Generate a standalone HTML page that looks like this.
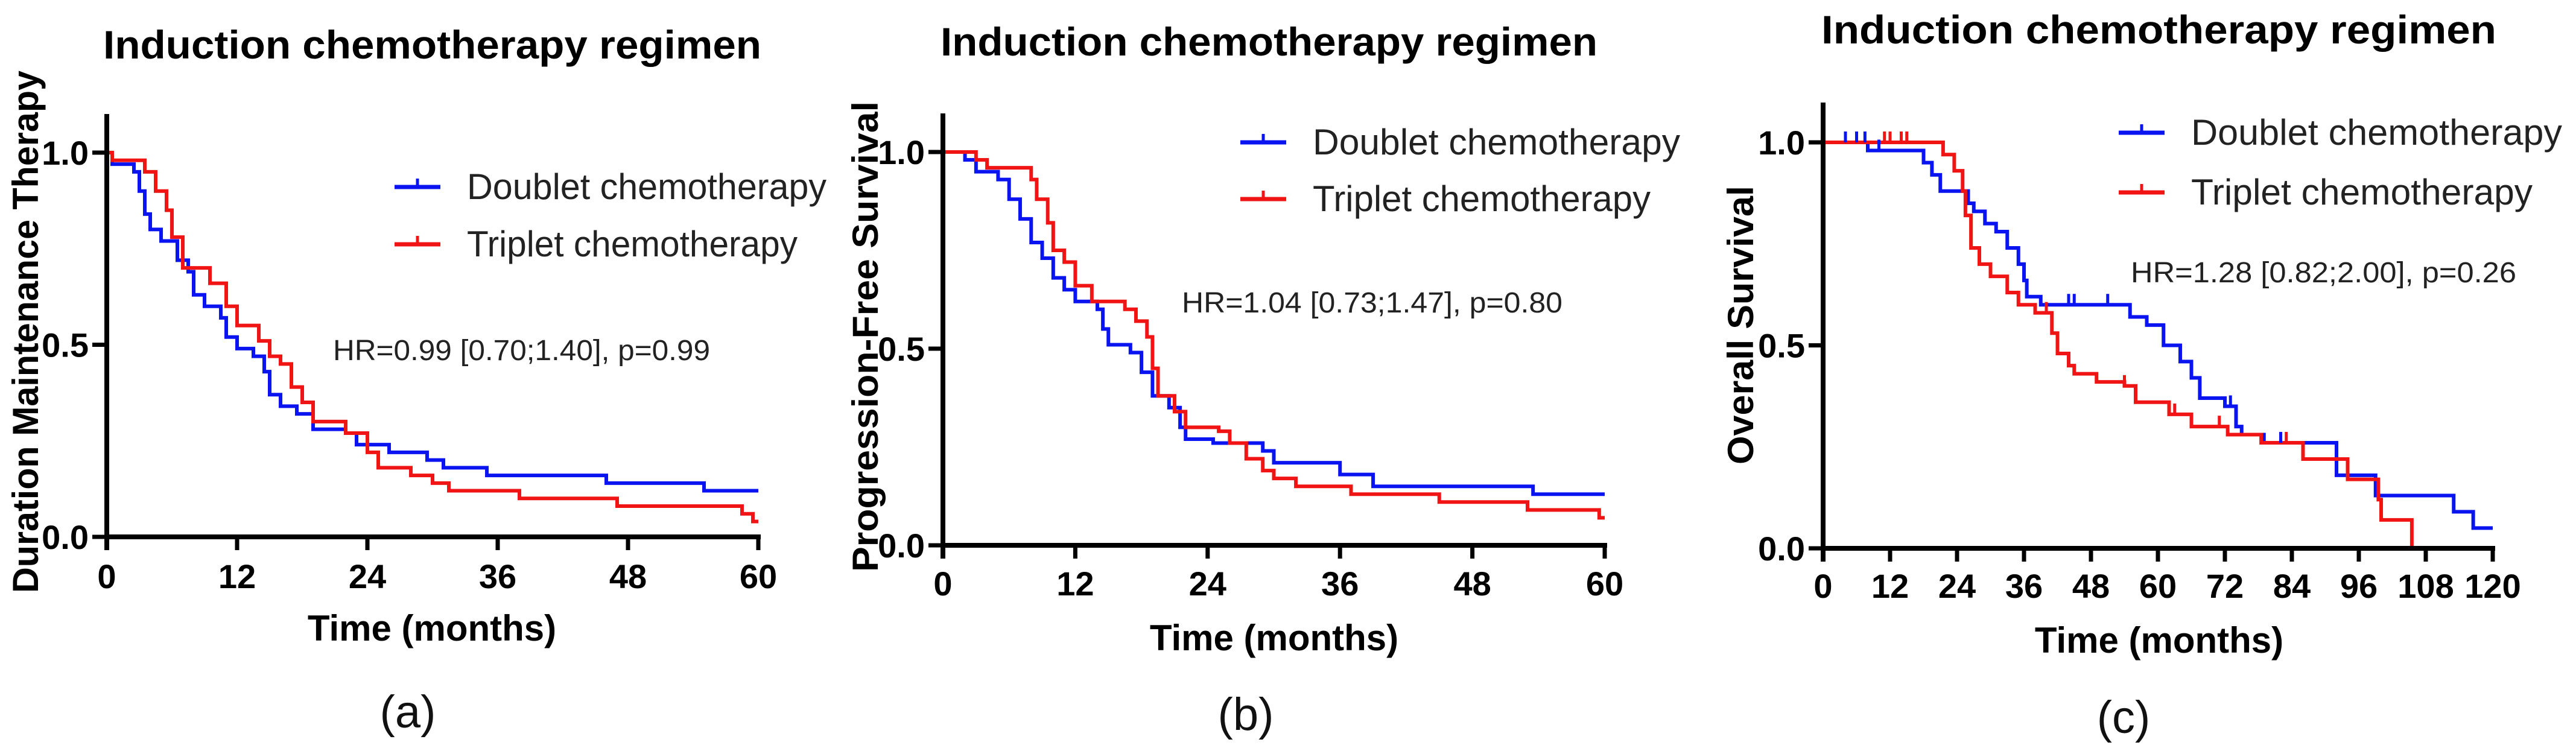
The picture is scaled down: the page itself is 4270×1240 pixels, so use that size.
<!DOCTYPE html>
<html><head><meta charset="utf-8"><title>Induction chemotherapy regimen KM curves</title>
<style>html,body{margin:0;padding:0;background:#fff;}svg{display:block;}text{font-family:"Liberation Sans",Arial,sans-serif;}</style>
</head><body>
<svg id="fig" xmlns="http://www.w3.org/2000/svg" width="4270" height="1240" viewBox="0 0 4270 1240"></svg>
<script>
// ---- Panel (a) data: Duration maintenance therapy ----
const aDoubletT = [0,0.5,2.5,3,3.5,4,5,6.5,7.5,8,9,10.5,11,12,13.5,14.5,15,16,17.5,19,22,23,26,29.5,31,35,46,55];
const aDoubletS = [1,0.97,0.95,0.9,0.84,0.8,0.77,0.72,0.69,0.63,0.6,0.57,0.52,0.49,0.47,0.43,0.37,0.34,0.32,0.28,0.27,0.24,0.22,0.2,0.18,0.16,0.14,0.12];
const aTripletT = [0,0.5,3,3.5,4.5,5.5,6,7,9.5,11,12,14,15,16,17,18,19,22,24,25,28,30,31.5,38,47,58.5,59.5];
const aTripletS = [1,0.98,0.98,0.95,0.9,0.85,0.78,0.7,0.66,0.6,0.55,0.51,0.47,0.45,0.39,0.35,0.3,0.27,0.22,0.18,0.16,0.14,0.12,0.1,0.08,0.06,0.04];
// ---- Panel (b) data: Progression-free survival ----
const bDoubletT = [0,2,3,5,6,7,8,9,10,11,12,14,14.5,15,17,18,19,20.5,21.5,22,24.5,29,30,36,39,53.5];
const bDoubletS = [1,0.98,0.95,0.93,0.88,0.83,0.77,0.73,0.68,0.65,0.62,0.6,0.55,0.51,0.49,0.44,0.38,0.35,0.3,0.27,0.26,0.24,0.21,0.18,0.15,0.13];
const bTripletT = [0,1.5,3,4,7.5,8,8.5,9.5,10,11,12,13.5,16.5,17.5,18.5,19,19.5,21,22,25,26,27.5,29,30,32,37,45,53,59.5];
const bTripletS = [1,1,0.98,0.96,0.96,0.93,0.88,0.82,0.75,0.72,0.66,0.62,0.6,0.57,0.53,0.45,0.38,0.34,0.3,0.29,0.26,0.22,0.19,0.17,0.15,0.13,0.11,0.09,0.07];
// ---- Panel (c) data: Overall survival ----
const cDoubletT = [0,8,18,19.5,21,26,27,29,31,33,35,36,36.5,39,53,55,58,61,64,66,67.5,72,74,75,79,91,92,99,113,116.5];
const cDoubletS = [1,0.98,0.95,0.92,0.88,0.85,0.83,0.8,0.78,0.74,0.7,0.66,0.62,0.6,0.6,0.57,0.55,0.5,0.46,0.42,0.37,0.35,0.3,0.28,0.26,0.26,0.18,0.13,0.09,0.05];
const cTripletT = [0,19,21.5,23.5,25,25.5,26.5,28,30,33,35,38,41,42,44,45,49,54,56,62,66,72.5,78.5,86,94,99.5,100,105.5];
const cTripletS = [1,1,0.97,0.93,0.88,0.82,0.74,0.7,0.67,0.63,0.6,0.58,0.53,0.48,0.45,0.43,0.41,0.4,0.36,0.33,0.3,0.28,0.26,0.22,0.17,0.12,0.07,0];
const cDoubletCensor = [4,6,7.5,10,44,45,51,73,82];
const cTripletCensor = [11,12,14,15,40,54,63,71,83];
// ---- Axis tick labels ----
const ticks60 = [0,12,24,36,48,60];
const ticks120 = [0,12,24,36,48,60,72,84,96,108,120];
const yTicks = [0,0.5,1.0];
const yTickLabels = ["0.0","0.5","1.0"];

const svg = document.getElementById('fig');
const NS = 'http://www.w3.org/2000/svg';
function mk(tag, attrs, parent){
  const e = document.createElementNS(NS, tag);
  for (const k in attrs) e.setAttribute(k, attrs[k]);
  (parent||svg).appendChild(e);
  return e;
}
function txt(parent, str, attrs){ const t = mk('text', attrs, parent); t.textContent = str; return t; }

function panel(cfg){
  const g = mk('g', {});
  
  
  const xs = v => cfg.x0 + (v - 0) / cfg.xmax * (cfg.x1 - cfg.x0);
  const ys = v => cfg.y0 - v * (cfg.y0 - cfg.y1);
  const ti = txt(g, 'Induction chemotherapy regimen', {x:cfg.titleX, y:cfg.titleY, 'font-size':66, 'font-weight':'bold', textLength:cfg.titleW, lengthAdjust:'spacingAndGlyphs'});
  
  
  function curve(T, S, color, nm){
    let d = 'M' + xs(T[0]) + ' ' + ys(S[0]);
    for (let i = 1; i < T.length; i++) d += ' H' + xs(T[i]) + ' V' + ys(S[i]);
    d += ' H' + xs(cfg.end);
    const p = mk('path', {d:d, fill:'none', stroke:color, 'stroke-width':6, 'stroke-linejoin':'miter'}, g);
    
    
    return S;
  }
  function survAt(T, S, t){ let s = S[0]; for (let i=0;i<T.length;i++){ if (T[i] <= t) s = S[i]; } return s; }
  curve(cfg.dT, cfg.dS, '#0a14f0', 'doublet-curve');
  curve(cfg.tT, cfg.tS, '#f01414', 'triplet-curve');
  (cfg.dC||[]).forEach(t=>{ const y=ys(survAt(cfg.dT,cfg.dS,t)); const l=mk('line',{x1:xs(t),x2:xs(t),y1:y,y2:y-18,stroke:'#0a14f0','stroke-width':5},g);   });
  (cfg.tC||[]).forEach(t=>{ const y=ys(survAt(cfg.tT,cfg.tS,t)); const l=mk('line',{x1:xs(t),x2:xs(t),y1:y,y2:y-18,stroke:'#f01414','stroke-width':5},g);   });
  const ya = mk('line', {x1:cfg.x0, x2:cfg.x0, y1:cfg.axTop, y2:cfg.y0+22, stroke:'#000', 'stroke-width':8}, g);
  
  
  const xa = mk('line', {x1:cfg.x0-4, x2:cfg.x1+4, y1:cfg.y0, y2:cfg.y0, stroke:'#000', 'stroke-width':8}, g);
  
  
  cfg.xt.forEach(v=>{
    const l = mk('line', {x1:xs(v), x2:xs(v), y1:cfg.y0, y2:cfg.y0+22, stroke:'#000', 'stroke-width':7}, g);
    
    
    const t = txt(g, String(v), {x:xs(v), y:cfg.tickY, 'font-size':56, 'font-weight':'bold', 'text-anchor':'middle'});
    
    
  });
  yTicks.forEach((v,i)=>{
    const l = mk('line', {x1:cfg.x0-24, x2:cfg.x0, y1:ys(v), y2:ys(v), stroke:'#000', 'stroke-width':7}, g);
    
    
    const t = txt(g, yTickLabels[i], {x:cfg.x0-30, y:ys(v)+20, 'font-size':56, 'font-weight':'bold', 'text-anchor':'end'});
    
    
  });
  const xt = txt(g, 'Time (months)', {x:cfg.xTitleX, y:cfg.xTitleY, 'font-size':60, 'font-weight':'bold', 'text-anchor':'middle'});
  
  
  const yt = txt(g, cfg.yTitle, {x:0, y:0, 'font-size':60, 'font-weight':'bold', 'text-anchor':'middle', transform:'translate('+cfg.yTitleX+','+cfg.yTitleY+') rotate(-90)', textLength:cfg.yTitleW, lengthAdjust:'spacingAndGlyphs'});
  
  
  const lg = mk('g', {}, g);
  
  
  [['Doublet chemotherapy','#0a14f0',cfg.legY1,'legend-doublet'],['Triplet chemotherapy','#f01414',cfg.legY2,'legend-triplet']].forEach(e=>{
    const cy = e[2]-20;
    const l = mk('line', {x1:cfg.legX, x2:cfg.legX+76, y1:cy, y2:cy, stroke:e[1], 'stroke-width':7}, lg);
    
    
    mk('line', {x1:cfg.legX+38, x2:cfg.legX+38, y1:cy, y2:cy-14, stroke:e[1], 'stroke-width':5}, lg);
    const t = txt(lg, e[0], {x:cfg.legX+120, y:e[2], 'font-size':60, fill:'#222', textLength:e[0][0]==='D'?cfg.legW1:cfg.legW2, lengthAdjust:'spacingAndGlyphs'});
    
    
  });
  const hr = txt(g, cfg.hr, {x:cfg.hrX, y:cfg.hrY, 'font-size':48, fill:'#222', textLength:cfg.hrW, lengthAdjust:'spacingAndGlyphs'});
  
  
  const pl = txt(g, cfg.label, {x:cfg.labX, y:cfg.labY, 'font-size':76, 'text-anchor':'middle', fill:'#111'});
  
  
}

panel({name:'panel-a', x0:177, x1:1257, xmax:60, end:60, y0:890, y1:253, axTop:189,
  dT:aDoubletT, dS:aDoubletS, tT:aTripletT, tS:aTripletS, xt:ticks60,
  titleX:171, titleY:97, titleW:1091, tickY:975, xTitleX:716, xTitleY:1062,
  yTitle:'Duration Maintenance Therapy', yTitleX:63, yTitleY:550, yTitleW:866,
  legX:654, legY1:330, legY2:425, legW1:596, legW2:548,
  hr:'HR=0.99 [0.70;1.40], p=0.99', hrX:552, hrY:597, hrW:625, label:'(a)', labX:676, labY:1206});
panel({name:'panel-b', x0:1563, x1:2660, xmax:60, end:60, y0:904, y1:252, axTop:188,
  dT:bDoubletT, dS:bDoubletS, tT:bTripletT, tS:bTripletS, xt:ticks60,
  titleX:1559, titleY:92, titleW:1089, tickY:987, xTitleX:2112, xTitleY:1078,
  yTitle:'Progression-Free Survival', yTitleX:1455, yTitleY:558, yTitleW:780,
  legX:2056, legY1:256, legY2:350, legW1:609, legW2:560,
  hr:'HR=1.04 [0.73;1.47], p=0.80', hrX:1959, hrY:518, hrW:631, label:'(b)', labX:2065, labY:1210});
panel({name:'panel-c', x0:3022, x1:4132, xmax:120, end:120, y0:909, y1:236, axTop:170,
  dT:cDoubletT, dS:cDoubletS, tT:cTripletT, tS:cTripletS, xt:ticks120, dC:cDoubletCensor, tC:cTripletCensor,
  titleX:3019, titleY:72, titleW:1119, tickY:991, xTitleX:3579, xTitleY:1082,
  yTitle:'Overall Survival', yTitleX:2906, yTitleY:539, yTitleW:462,
  legX:3512, legY1:240, legY2:339, legW1:615, legW2:566,
  hr:'HR=1.28 [0.82;2.00], p=0.26', hrX:3532, hrY:468, hrW:639, label:'(c)', labX:3520, labY:1215});
</script>
</body></html>
